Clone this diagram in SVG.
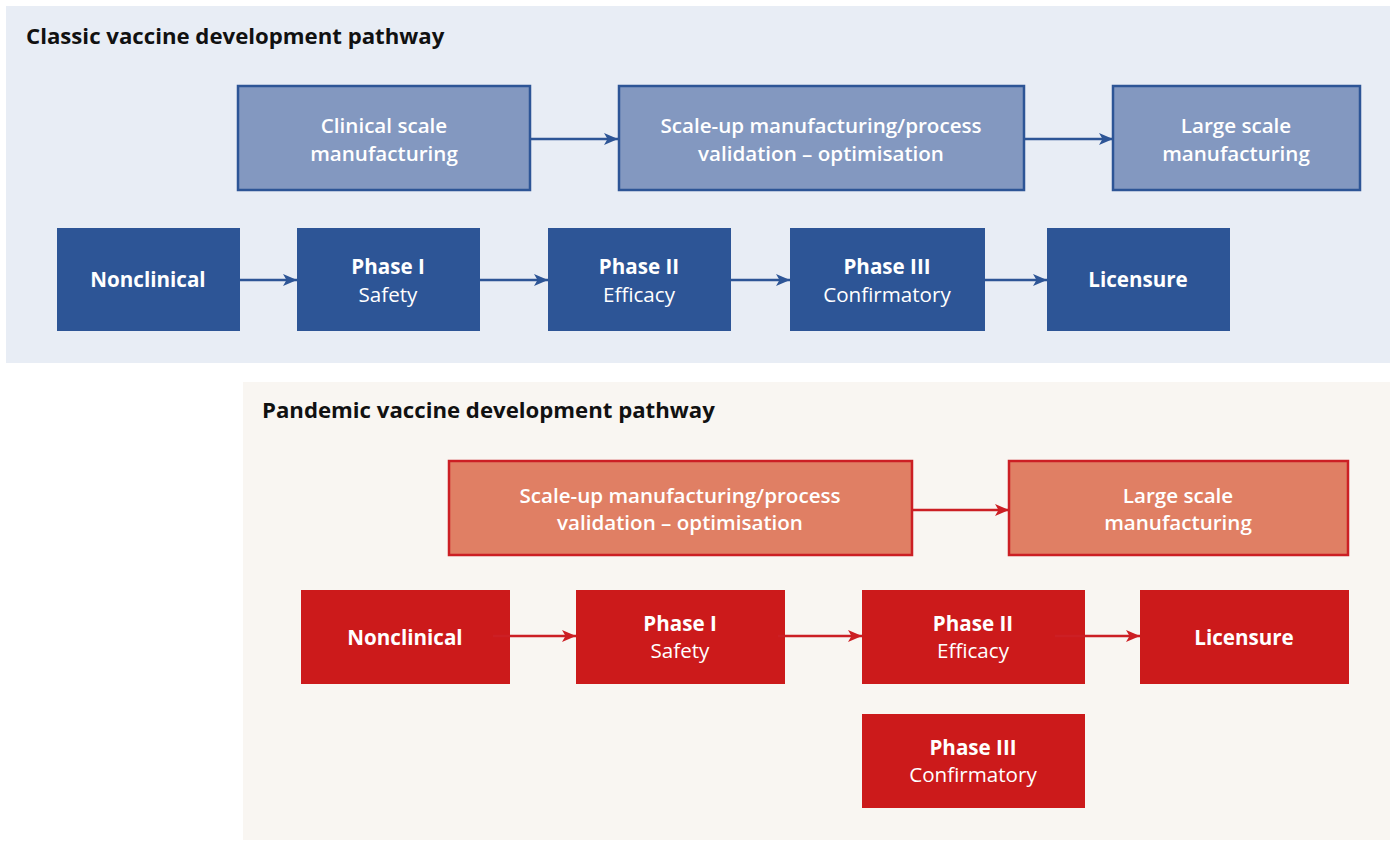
<svg xmlns="http://www.w3.org/2000/svg" width="1394" height="843" viewBox="0 0 1394 843">
<defs>
<style>
.title{font-family:"Open Sans","Liberation Sans",sans-serif;font-weight:700;font-size:22.2px;fill:#111}
.t{font-family:"Open Sans","Liberation Sans",sans-serif;font-size:20.6px;fill:#fff;text-anchor:middle}
.b{font-weight:600}
.k{font-weight:700}
.r{font-weight:400}
.lb{fill:#8398c0;stroke:#2d5596;stroke-width:2.5}
.db{fill:#2d5596}
.lr{fill:#e07f64;stroke:#cc1f24;stroke-width:2.5}
.dr{fill:#cc1a1b}
.cb{stroke:#2d5596;stroke-width:2.5;fill:none;marker-end:url(#ab)}
.cr{stroke:#cc1f24;stroke-width:2.5;fill:none;marker-end:url(#ar)}
</style>
<marker id="ab" viewBox="0 0 14 12" refX="14" refY="6" markerWidth="14" markerHeight="12" markerUnits="userSpaceOnUse" orient="auto"><path d="M0,0 L14,6 L0,12 L3.5,6 Z" fill="#2d5596"/></marker>
<marker id="ar" viewBox="0 0 14 12" refX="14" refY="6" markerWidth="14" markerHeight="12" markerUnits="userSpaceOnUse" orient="auto"><path d="M0,0 L14,6 L0,12 L3.5,6 Z" fill="#cc1f24"/></marker>
</defs>
<rect width="1394" height="843" fill="#ffffff"/>
<g id="panel-classic">
<rect x="6" y="6" width="1384" height="357" fill="#e8edf5"/>
<text class="title" x="26" y="44">Classic vaccine development pathway</text>
</g>
<g id="panel-pandemic">
<rect x="243" y="382" width="1147" height="458" fill="#f9f6f2"/>
<text class="title" x="262" y="418">Pandemic vaccine development pathway</text>
</g>
<g id="connectors">
<line class="cb" x1="531" y1="139" x2="618" y2="139"/>
<line class="cb" x1="1025" y1="139" x2="1113" y2="139"/>
<line class="cb" x1="240" y1="280" x2="297" y2="280"/>
<line class="cb" x1="480" y1="280" x2="548" y2="280"/>
<line class="cb" x1="731" y1="280" x2="790" y2="280"/>
<line class="cb" x1="985" y1="280" x2="1047" y2="280"/>
<line class="cr" x1="913" y1="510" x2="1009" y2="510"/>
</g>
<g id="c-clinical"><rect class="lb" x="238" y="86" width="292" height="104"/><text class="t b" x="384" y="133">Clinical scale</text><text class="t b" x="384" y="161">manufacturing</text></g>
<g id="c-scaleup"><rect class="lb" x="619" y="86" width="405" height="104"/><text class="t b" x="821" y="133">Scale-up manufacturing/process</text><text class="t b" x="821" y="161">validation – optimisation</text></g>
<g id="c-large"><rect class="lb" x="1113" y="86" width="247" height="104"/><text class="t b" x="1236" y="133">Large scale</text><text class="t b" x="1236" y="161">manufacturing</text></g>
<g id="c-nonclinical"><rect class="db" x="57" y="228" width="183" height="103"/><text class="t k" x="148" y="287">Nonclinical</text></g>
<g id="c-phase1"><rect class="db" x="297" y="228" width="183" height="103"/><text class="t k" x="388" y="274">Phase I</text><text class="t r" x="388" y="302">Safety</text></g>
<g id="c-phase2"><rect class="db" x="548" y="228" width="183" height="103"/><text class="t k" x="639" y="274">Phase II</text><text class="t r" x="639" y="302">Efficacy</text></g>
<g id="c-phase3"><rect class="db" x="790" y="228" width="195" height="103"/><text class="t k" x="887" y="274">Phase III</text><text class="t r" x="887" y="302">Confirmatory</text></g>
<g id="c-licensure"><rect class="db" x="1047" y="228" width="183" height="103"/><text class="t k" x="1138" y="287">Licensure</text></g>
<g id="p-scaleup"><rect class="lr" x="449" y="461" width="463" height="94"/><text class="t b" x="680" y="503">Scale-up manufacturing/process</text><text class="t b" x="680" y="530">validation – optimisation</text></g>
<g id="p-large"><rect class="lr" x="1009" y="461" width="339" height="94"/><text class="t b" x="1178" y="503">Large scale</text><text class="t b" x="1178" y="530">manufacturing</text></g>
<g id="p-nonclinical"><rect class="dr" x="301" y="590" width="209" height="94"/><text class="t k" x="405" y="645">Nonclinical</text></g>
<g id="p-phase1"><rect class="dr" x="576" y="590" width="209" height="94"/><text class="t k" x="680" y="631">Phase I</text><text class="t r" x="680" y="658">Safety</text></g>
<g id="p-phase2"><rect class="dr" x="862" y="590" width="223" height="94"/><text class="t k" x="973" y="631">Phase II</text><text class="t r" x="973" y="658">Efficacy</text></g>
<g id="p-licensure"><rect class="dr" x="1140" y="590" width="209" height="94"/><text class="t k" x="1244" y="645">Licensure</text></g>
<g id="p-phase3"><rect class="dr" x="862" y="714" width="223" height="94"/><text class="t k" x="973" y="755">Phase III</text><text class="t r" x="973" y="782">Confirmatory</text></g>
<g id="connectors-pandemic">
<line class="cr" x1="493" y1="636" x2="576" y2="636"/>
<line class="cr" x1="778" y1="636" x2="862" y2="636"/>
<line class="cr" x1="1055" y1="636" x2="1140" y2="636"/>
</g>
</svg>
